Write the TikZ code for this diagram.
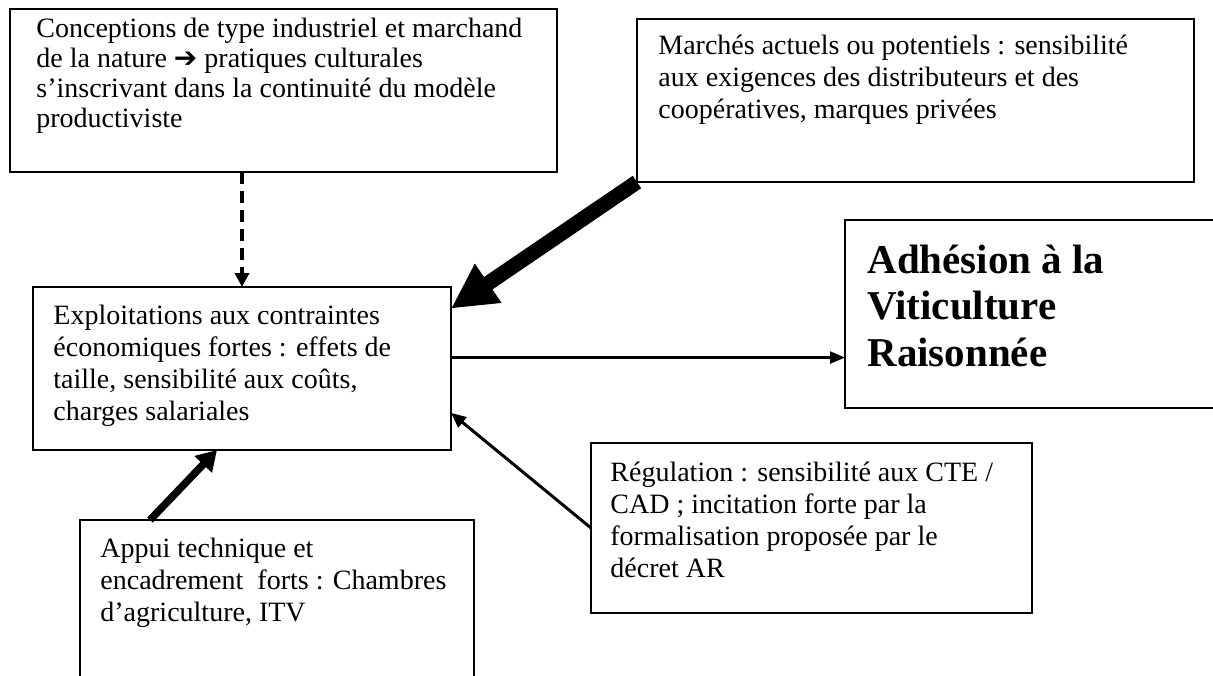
\documentclass[tikz,border=0pt]{standalone}
\usepackage{fontspec}
\setmainfont{Liberation Serif}
\newfontfamily\arrowfont{DejaVu Sans}
\usetikzlibrary{arrows.meta}

\tikzset{
  box/.style={draw, line width=2pt, anchor=north west, inner sep=0pt, outer sep=0pt},
  txt/.style={anchor=base west, inner sep=0pt},
}
\newcommand{\boxtext}[3][32]{\parbox[t]{#2pt}{\fontsize{28}{#1}\selectfont\raggedright #3}}

\begin{document}
\begin{tikzpicture}[x=1pt, y=-1pt, thick]
          \fill[white] (0,0) rectangle (1213,675);
          \useasboundingbox (0,0) rectangle (1213,675);

          \node[box, minimum width=547, minimum height=163] (concep) at (10,9) {};
          \node[box, minimum width=557, minimum height=163] (march) at (637,19) {};
          \node[box, minimum width=418, minimum height=163] (expl) at (33,287) {};
          \node[box, minimum width=380, minimum height=188] (adh) at (845,220) {};
          \node[box, minimum width=441, minimum height=170] (regul) at (591,443) {};
          \node[box, minimum width=394, minimum height=200] (appui) at (80,520) {};

          \node[txt] (concept) at ([shift={(26,28)}]concep.north west) {\boxtext[30]{520}{Conceptions de type industriel et marchand\\de la nature {\arrowfont ➔} pratiques culturales\\s’inscrivant dans la continuité du modèle\\productiviste}};
          \node[txt] (marcht) at ([shift={(21,35)}]march.north west) {\boxtext{530}{Marchés actuels ou potentiels : sensibilité\\aux exigences des distributeurs et des\\coopératives, marques privées}};
          \node[txt] (explt) at ([shift={(20,37)}]expl.north west) {\boxtext{395}{Exploitations aux contraintes\\économiques fortes : effets de\\taille, sensibilité aux coûts,\\charges salariales}};
          \node[txt] (adht) at ([shift={(22,53)}]adh.north west) {\parbox[t]{330pt}{\fontsize{41}{46.5}\selectfont\bfseries Adhésion à la\\Viticulture\\Raisonnée}};
          \node[txt] (regult) at ([shift={(19,38)}]regul.north west) {\boxtext{420}{Régulation : sensibilité aux CTE /\\CAD ; incitation forte par la\\formalisation proposée par le\\décret AR}};
          \node[txt] (appuit) at ([shift={(20,37)}]appui.north west) {\boxtext{370}{Appui technique et\\encadrement\ \ forts : Chambres\\d’agriculture, ITV}};

          % influences sur les exploitations
          \draw[line width=4pt, dash pattern=on 12pt off 7pt, -{Triangle[length=14pt,width=14pt]}] (expl.north |- concep.south) -- (expl.north);
          \draw[line width=15pt, -{Triangle[length=45pt,width=44pt]}] (march.south west) -- (expl.16);
          \draw[line width=3pt, -{Triangle[length=15pt,width=13pt]}] (regul.west) -- (expl.-12);
          \draw[line width=7.5pt, -{Triangle[length=20pt,width=23pt]}] ([xshift=70]appui.north west) -- ([xshift=-25]expl.south);

          \draw[line width=2.5pt, -{Triangle[length=15pt,width=12pt]}] (expl.3) -- (expl.3 -| adh.west);
\end{tikzpicture}
\end{document}
